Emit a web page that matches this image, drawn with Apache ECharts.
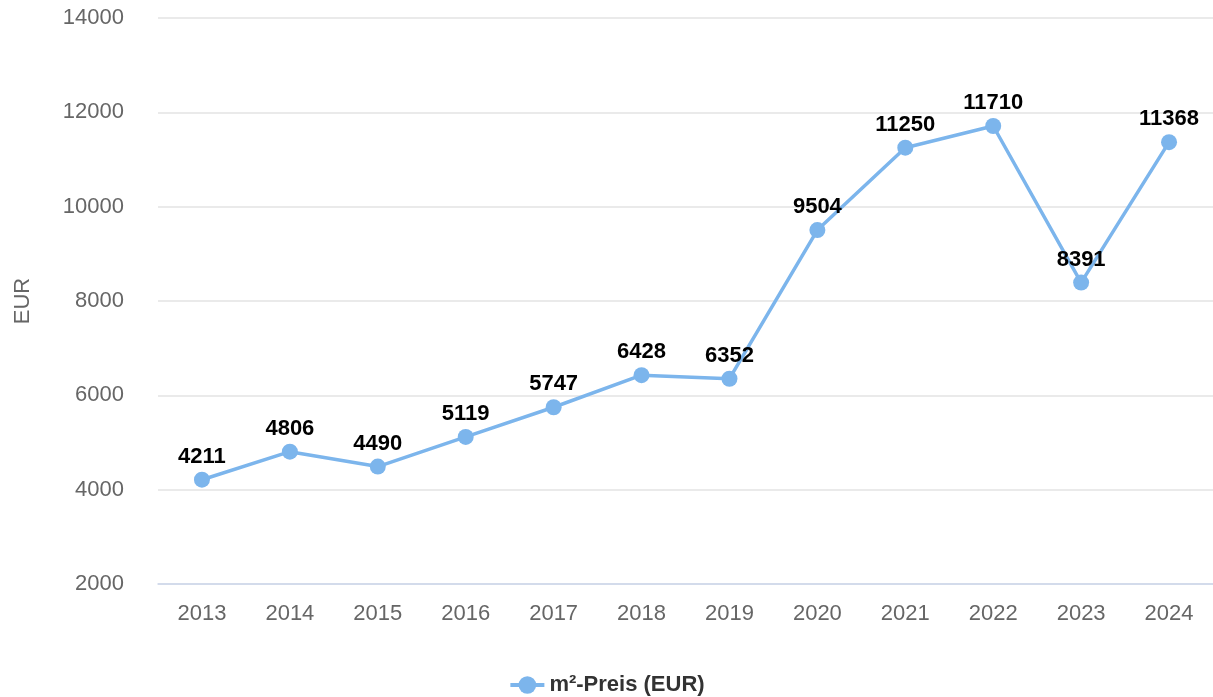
<!DOCTYPE html>
<html>
<head>
    <meta charset="utf-8">
    <title>m²-Preis</title>
    <script src="https://cdn.jsdelivr.net/npm/echarts@6/dist/echarts.min.js"></script>
    <style>
        html, body { margin: 0; padding: 0; background: #fff; }
    </style>
</head>
<body>
    <div id="main" style="width: 1213px;height:697px;"></div>
    <script type="text/javascript">

// data
var years = ['2013', '2014', '2015', '2016', '2017', '2018', '2019', '2020', '2021', '2022', '2023', '2024'];
var prices = [4211, 4806, 4490, 5119, 5747, 6428, 6352, 9504, 11250, 11710, 8391, 11368];
var seriesName = 'm²-Preis (EUR)';
var yMin = 2000, yMax = 14000, yStep = 2000;

var font = '"Liberation Sans", Arial, Helvetica, sans-serif';
var myChart = echarts.init(document.getElementById('main'));

var option = {
    backgroundColor: '#ffffff',
    animation: false,
    textStyle: { fontFamily: font },
    grid: {
        left: 158,
        right: 0,
        top: 18,
        bottom: 113
    },
    legend: {
        bottom: -4,
        left: 'center',
        itemWidth: 34,
        itemHeight: 22,
        itemGap: 10,
        lineStyle: { width: 4 },
        textStyle: {
            fontFamily: font,
            fontSize: 22,
            fontWeight: 'bold',
            color: '#333333'
        },
        data: [seriesName]
    },
    xAxis: {
        type: 'category',
        data: years,
        boundaryGap: true,
        axisLine: { show: true, lineStyle: { color: '#ccd6eb', width: 1.5 } },
        axisTick: { show: false },
        axisLabel: {
            color: '#666666',
            fontSize: 22,
            fontFamily: font,
            margin: 19
        }
    },
    yAxis: {
        type: 'value',
        min: yMin,
        max: yMax,
        interval: yStep,
        name: 'EUR',
        nameLocation: 'middle',
        nameGap: 124,
        nameRotate: 90,
        nameTextStyle: {
            color: '#666666',
            fontSize: 22,
            fontFamily: font
        },
        axisLine: { show: false },
        axisTick: { show: false },
        axisLabel: {
            color: '#666666',
            fontSize: 22,
            fontFamily: font,
            margin: 34,
            formatter: function (v) { return String(v); }
        },
        splitLine: { lineStyle: { color: '#e3e3e3', width: 1.5 } }
    },
    series: [{
        name: seriesName,
        type: 'line',
        data: prices,
        symbol: 'circle',
        symbolSize: 16,
        lineStyle: { color: '#7cb5ec', width: 3.5 },
        itemStyle: { color: '#7cb5ec' },
        label: {
            show: true,
            position: 'top',
            distance: 4,
            color: '#000000',
            fontSize: 22,
            fontWeight: 'bold',
            fontFamily: font
        }
    }]
};

myChart.setOption(option);

    </script>
</body>
</html>
